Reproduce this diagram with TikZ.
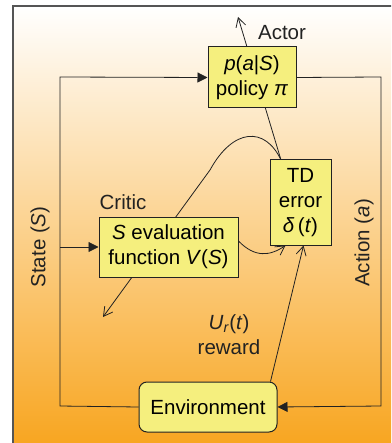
\documentclass[tikz,border=0pt]{standalone}
\usepackage{fontspec}
\setmainfont{Liberation Sans}
\usetikzlibrary{arrows.meta}
\definecolor{boxyellow}{HTML}{F5EF7E}
\definecolor{peach}{HTML}{FCD5B8}
\definecolor{deeporange}{HTML}{F8A51F}
\definecolor{framegray}{HTML}{555555}
\definecolor{ink}{HTML}{222222}
\tikzset{
  block/.style={draw=ink, fill=boxyellow, line width=1pt, align=center, inner sep=0pt},
  lab/.style={text=ink, align=center, inner sep=0pt},
  flow/.style={draw=ink, line width=0.8pt, -{Triangle[length=10pt,width=10pt]}},
  signal/.style={draw=ink, line width=0.8pt, -{Straight Barb[length=9pt,width=10pt,line width=0.8pt]}}
}
\begin{document}
\begin{tikzpicture}[x=1pt, y=-1pt, font=\fontsize{20.5}{25}\selectfont]
\useasboundingbox (0,0) rectangle (391,443);
\clip (0,0) rectangle (391,443);
% background panel
\shade[top color=white, middle color=peach, bottom color=deeporange] (13,6) rectangle (395,447);
\draw[framegray, line width=1.5pt] (13,447) -- (13,6) -- (395,6);

% feedback paths from the TD error (drawn under the boxes)
\coordinate (tdtop) at (281,160);
\coordinate (actortip) at (238,17);
\coordinate (critictip) at (103,317);
\draw[signal] (tdtop) -- (actortip);
\draw[signal] (tdtop) .. controls (265,126) and (233,128) .. (210,170) -- (critictip);

% blocks
\node[block, minimum width=88pt, minimum height=61pt] (policy) at (252,77.5)
  {\textit{p}(\textit{a}|\textit{S})\\policy \textit{π}};
\node[block, minimum width=61pt, minimum height=85pt] (td) at (300.5,202.5)
  {TD\\error\\\textit{δ}\,(\textit{t})};
\node[block, minimum width=139pt, minimum height=60pt] (critic) at (168.5,247)
  {\textit{S} evaluation\\function \textit{V}(\textit{S})};
\node[block, rounded corners=8pt, minimum width=138pt, minimum height=50pt] (env) at (208,407)
  {Environment};

% labels
\node[lab] (actor) at (282,33) {Actor};
\node[lab] (criticlab) at (123,202) {Critic};
\node[lab] (reward) at (229,335) {\textit{U}\textsubscript{\textit{r}}(\textit{t})\\reward};
\node[lab, rotate=90] (state) at (40,247) {State (\textit{S})};
\node[lab, rotate=90] (action) at (364,243) {Action (\textit{a})};

% main loop
\coordinate (bl) at (60,406);
\coordinate (tl) at (60,77);
\coordinate (tr) at (381,77);
\coordinate (br) at (381,406);
\coordinate (sp) at (60,247);
\draw[flow] (env.west) -- (bl) -- (tl) -- (policy.west);
\draw[flow] (policy.east) -- (tr) -- (br) -- (env.east);
\draw[flow] (sp) -- (critic.west);

% value and reward into the TD error
\draw[signal] ([yshift=6pt]critic.east) .. controls (255,258) and (270,256) .. ([xshift=-15pt]td.south);
\draw[signal] ([xshift=-7pt]env.north east) -- ([xshift=3pt]td.south);
\end{tikzpicture}
\end{document}
